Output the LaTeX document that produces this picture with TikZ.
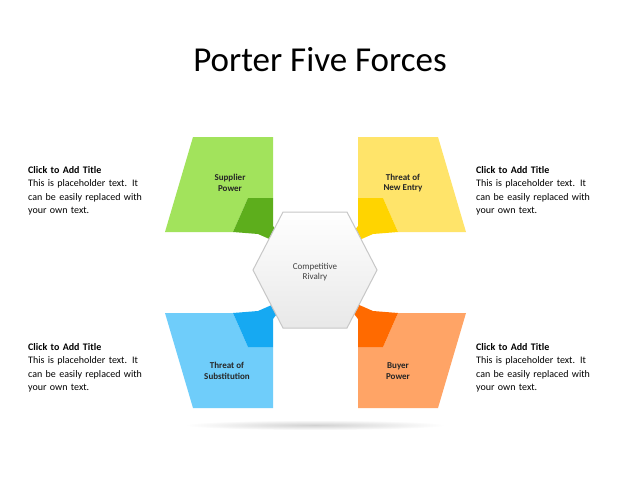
\documentclass[tikz,border=0pt]{standalone}
\usepackage{fontspec}
\setmainfont{Carlito}
\usetikzlibrary{shadings}
\definecolor{gL}{HTML}{A2E35C}\definecolor{gD}{HTML}{5DAE1C}
\definecolor{yL}{HTML}{FFE46A}\definecolor{yD}{HTML}{FFD400}
\definecolor{bL}{HTML}{6FCDFA}\definecolor{bD}{HTML}{16A9F2}
\definecolor{oL}{HTML}{FFA466}\definecolor{oD}{HTML}{FF6A00}
\begin{document}
\begin{tikzpicture}[x=1pt,y=-1pt,
  lab/.style={font=\bfseries\fontsize{9}{10.5}\selectfont,align=center,text=black!85},
  side/.style={font=\fontsize{10}{13.5}\selectfont,align=left,anchor=north west,inner sep=0pt,text width=115pt}]
\useasboundingbox (0,0) rectangle (640,480);
\fill[white] (0,0) rectangle (640,480);
\node[font=\fontsize{35}{40}\selectfont] (title) at (320,60) {Porter Five Forces};
% shadow
\shade[inner color=black!18,outer color=white] (315,425) ellipse (130 and 5);
\newcommand{\quadshape}[2]{%
  \fill[#1] (-122.5,-135.5)--(-42.5,-135.5)--(-42.5,-74.5)--(-67.5,-74.5)--(-82.5,-40.5)--(-150.5,-40.5)--cycle;
  \fill[#2] (-67.5,-74.5)--(-42.5,-74.5)--(-42.5,-46.5)--(-25.5,-24.5)--(-57.5,-38.5)--(-82.5,-40.5)--cycle;}
\begin{scope}[shift={(315.5,272.5)}]
  \begin{scope}\quadshape{gL}{gD}\end{scope}
  \begin{scope}[xscale=-1]\quadshape{yL}{yD}\end{scope}
  \begin{scope}[yscale=-1]\quadshape{bL}{bD}\end{scope}
  \begin{scope}[xscale=-1,yscale=-1]\quadshape{oL}{oD}\end{scope}
\end{scope}
% hexagon
\shade[top color=white,bottom color=black!9,draw=black!22,line width=1pt]
  (253,270)--(283,212)--(347,212)--(377,270)--(347,328)--(283,328)--cycle;
\node[font=\fontsize{9}{10.5}\selectfont,align=center,text=black!75] (hex) at (315,272) {Competitive\\Rivalry};
\node[lab] (sp) at (230,183) {Supplier\\Power};
\node[lab] (ne) at (403,183) {Threat of\\New Entry};
\node[lab] (ts) at (227,371) {Threat of\\Substitution};
\node[lab] (bp) at (398,371) {Buyer\\Power};
\node[side] (t1) at (28,166) {\textbf{Click to Add Title}\\This is placeholder text. It can be easily replaced with your own text.};
\node[side] (t2) at (476,166) {\textbf{Click to Add Title}\\This is placeholder text. It can be easily replaced with your own text.};
\node[side] (t3) at (28,343) {\textbf{Click to Add Title}\\This is placeholder text. It can be easily replaced with your own text.};
\node[side] (t4) at (476,343) {\textbf{Click to Add Title}\\This is placeholder text. It can be easily replaced with your own text.};
\end{tikzpicture}
\end{document}
